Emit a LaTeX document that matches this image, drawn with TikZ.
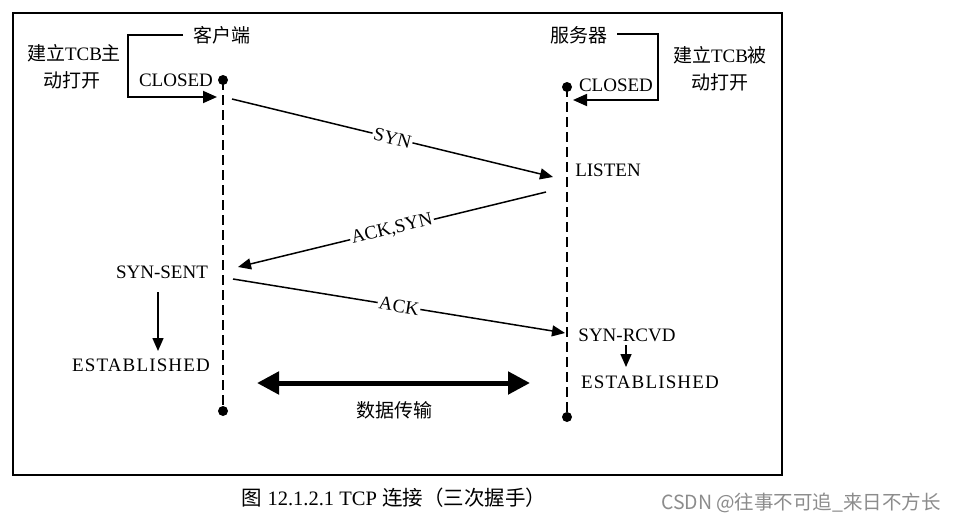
\documentclass[tikz,border=0pt]{standalone}
\usepackage{fontspec}
\setmainfont{Liberation Serif}
\newfontfamily\cjk{Noto Sans CJK SC}
\usetikzlibrary{arrows.meta}
\begin{document}
\begin{tikzpicture}[x=1pt,y=-1pt,
  lbl/.style={inner sep=0pt, font=\fontsize{19}{20}\selectfont},
  msg/.style={lbl, fill=white, inner sep=1.5pt, sloped},
  wide/.style={lbl, font=\fontsize{19}{20}\selectfont\addfontfeature{LetterSpace=6}},
  dot/.style={circle, fill=black, inner sep=0pt, minimum size=10pt},
  life/.style={line width=1.5pt, dash pattern=on 10pt off 5pt},
  arr/.style={line width=1.5pt, -{Triangle[length=13pt,width=11pt]}},
  brk/.style={line width=1.8pt, -{Triangle[length=14pt,width=12pt]}},
  big/.style={line width=5pt, {Triangle[length=22pt,width=22pt]}-{Triangle[length=22pt,width=22pt]}}
]
\useasboundingbox (0,0) rectangle (957,522);
\fill[white] (0,0) rectangle (957,522);
\node[draw, line width=2.2pt, minimum width=769pt, minimum height=462pt, inner sep=0pt, anchor=north west] (frame) at (12,12) {};

% lifelines
\node[dot] (c1) at (223,80) {};
\node[dot] (c2) at (223,411) {};
\node[dot] (s1) at (567,87) {};
\node[dot] (s2) at (567,417) {};
\draw[life] (c1.center) -- (c2.center);
\draw[life] (s1.center) -- (s2.center);

% client side
\node[lbl] (kh) at (222,35) {\cjk 客户端};
\node[lbl] (jl1) at (74,53) {{\cjk 建立}TCB{\cjk 主}};
\node[lbl] (jl2) at (72,80) {\cjk 动打开};
\node[lbl] (cc) at (176,80) {CLOSED};
\coordinate (b1) at (183,35);
\coordinate (b2) at (217,97);
\draw[brk] (b1) -- (128,35) |- (b2);

% server side
\node[lbl] (fw) at (579,35) {\cjk 服务器};
\node[lbl] (sc) at (616,85) {CLOSED};
\node[lbl] (jl3) at (720,55) {{\cjk 建立}TCB{\cjk 被}};
\node[lbl] (jl4) at (720,82) {\cjk 动打开};
\coordinate (b3) at (617,34);
\coordinate (b4) at (573,100);
\draw[brk] (b3) -- (658,34) |- (b4);

% messages
\coordinate (m1s) at (232,99);
\coordinate (m1e) at (553,177);
\draw[arr] (m1s) -- node[msg] (syn) {SYN} (m1e);
\node[lbl] (listen) at (608,170) {LISTEN};

\coordinate (m2s) at (546,192);
\coordinate (m2e) at (238,267);
\draw[arr] (m2s) -- node[msg] (acksyn) {ACK,SYN} (m2e);
\node[lbl] (ss) at (162,272) {SYN-SENT};

\coordinate (m3s) at (233,279);
\coordinate (m3e) at (565,333);
\draw[arr] (m3s) -- node[msg] (ack) {ACK} (m3e);
\node[lbl] (sr) at (627,335) {SYN-RCVD};

\node[wide] (ce) at (141,365) {ESTABLISHED};
\node[wide] (se) at (650,382) {ESTABLISHED};
\coordinate (a1s) at (158,292);
\coordinate (a1e) at (158,351);
\draw[arr] (a1s) -- (a1e);
\coordinate (a2s) at (626,345);
\coordinate (a2e) at (626,367);
\draw[arr] (a2s) -- (a2e);

% data transfer
\coordinate (d1) at (257,383);
\coordinate (d2) at (530,383);
\draw[big] (d1) -- (d2);
\node[lbl] (sj) at (394,410) {\cjk 数据传输};

% caption
\node[inner sep=0pt, font=\fontsize{20.5}{22}\selectfont] (cap) at (394,498) {{\cjk 图} 12.1.2.1 TCP {\cjk 连接（三次握手）}};
\node[inner sep=0pt, font=\cjk\fontsize{19.5}{20}\selectfont, text=black!45] (wm) at (801,503) {CSDN @往事不可追\_来日不方长};
\end{tikzpicture}
\end{document}
